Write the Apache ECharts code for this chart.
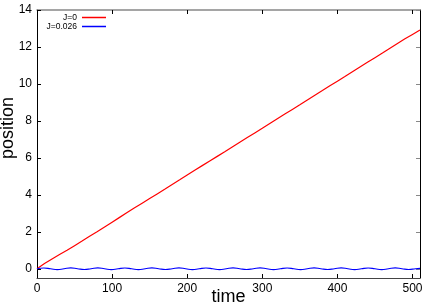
<!DOCTYPE html>
<html><head><meta charset="utf-8">
<script src="https://cdn.jsdelivr.net/npm/echarts@6/dist/echarts.min.js"></script>
<style>html,body{margin:0;padding:0;background:#fff}#c{width:436px;height:305px}</style>
</head><body><div id="c"></div>
<script>
var timeRed = [0,10,20,30,40,50,60,70,80,90,100,110,120,130,140,150,160,170,180,190,200,210,220,230,240,250,260,270,280,290,300,310,320,330,340,350,360,370,380,390,400,410,420,430,440,450,460,470,480,490,500,510];
var posRed = [0,0.28,0.53,0.77,1.0,1.25,1.5,1.76,2.0,2.26,2.52,2.78,3.04,3.3,3.55,3.8,4.05,4.3,4.56,4.81,5.07,5.33,5.58,5.83,6.08,6.33,6.59,6.85,7.1,7.35,7.6,7.86,8.12,8.37,8.62,8.87,9.13,9.39,9.64,9.9,10.15,10.4,10.66,10.92,11.17,11.42,11.67,11.93,12.19,12.44,12.68,12.92];
var timeBlue = [0,9,18,27,36,45,54,63,72,81,90,99,108,117,126,135,144,153,162,171,180,189,198,207,216,225,234,243,252,261,270,279,288,297,306,315,324,333,342,351,360,369,378,387,396,405,414,423,432,441,450,459,468,477,486,495,504,510];
var posBlue = [0,0.04,0,-0.05,0,0.05,0,-0.04,0,0.05,0,-0.05,0,0.04,0,-0.05,0,0.05,0,-0.04,0,0.05,0,-0.05,0,0.04,0,-0.05,0,0.05,0,-0.04,0,0.05,0,-0.05,0,0.04,0,-0.05,0,0.05,0,-0.04,0,0.05,0,-0.05,0,0.04,0,-0.05,0,0.05,0,-0.04,0,0.02];
var xTicks = [0,100,200,300,400,500];
var yTicks = [0,2,4,6,8,10,12,14];
var seriesNames = ['J=0','J=0.026'];

function pairs(a,b){return a.map(function(v,i){return [v,b[i]];});}
var font = 'Liberation Sans, Arial, sans-serif';
var chart = echarts.init(document.getElementById('c'));
chart.setOption({
  animation:false,
  grid:{left:37,right:16,top:10,bottom:27,containLabel:false,outerBoundsMode:'none'},
  legend:[
    {data:[seriesNames[0]],orient:'vertical',align:'right',right:330,top:13,icon:'rect',itemWidth:24,itemHeight:1.5,itemGap:5,textStyle:{fontFamily:font,fontSize:8.5,color:'#000',padding:[0,0,0,0]},padding:0},
    {data:[seriesNames[1]],orient:'vertical',align:'right',right:330,top:22,icon:'rect',itemWidth:24,itemHeight:1.5,itemGap:5,textStyle:{fontFamily:font,fontSize:8.5,color:'#000'},padding:0}
  ],
  xAxis:[
    {type:'value',min:0,max:510,position:'bottom',
     name:'time',nameLocation:'middle',nameGap:10,nameMoveOverlap:false,nameTextStyle:{fontFamily:font,fontSize:18,color:'#000',verticalAlign:'top'},
     axisLine:{onZero:false,lineStyle:{color:'#444',width:1}},
     axisTick:{inside:true,length:4,customValues:xTicks,lineStyle:{color:'#000'}},
     axisLabel:{customValues:xTicks,fontFamily:font,fontSize:12,color:'#000',margin:5},
     splitLine:{show:false}},
    {type:'value',min:0,max:510,position:'top',
     axisLine:{onZero:false,lineStyle:{color:'#888',width:1.5}},
     axisTick:{inside:true,length:4,customValues:xTicks,lineStyle:{color:'#000'}},
     axisLabel:{show:false},splitLine:{show:false}}
  ],
  yAxis:[
    {type:'value',min:-0.5,max:14,position:'left',
     name:'position',nameLocation:'middle',nameGap:20,nameMoveOverlap:false,nameRotate:90,nameTextStyle:{fontFamily:font,fontSize:18,color:'#000',padding:[0,0,0,32]},
     axisLine:{show:true,onZero:false,lineStyle:{color:'#000',width:1}},
     axisTick:{show:true,inside:true,length:4,customValues:yTicks,lineStyle:{color:'#000'}},
     axisLabel:{customValues:yTicks,fontFamily:font,fontSize:12,color:'#000',margin:5},
     splitLine:{show:false}},
    {type:'value',min:-0.5,max:14,position:'right',
     axisLine:{show:true,onZero:false,lineStyle:{color:'#000',width:1}},
     axisTick:{show:true,inside:true,length:4,customValues:yTicks,lineStyle:{color:'#888'}},
     axisLabel:{show:false},splitLine:{show:false}}
  ],
  series:[
    {name:seriesNames[0],type:'line',xAxisIndex:0,yAxisIndex:0,data:pairs(timeRed,posRed),symbol:'none',lineStyle:{color:'#ff0000',width:1.2},itemStyle:{color:'#ff0000'}},
    {name:seriesNames[1],type:'line',xAxisIndex:0,yAxisIndex:0,data:pairs(timeBlue,posBlue),symbol:'none',smooth:true,lineStyle:{color:'#0000ff',width:1.2},itemStyle:{color:'#0000ff'}}
  ]
});
</script></body></html>
